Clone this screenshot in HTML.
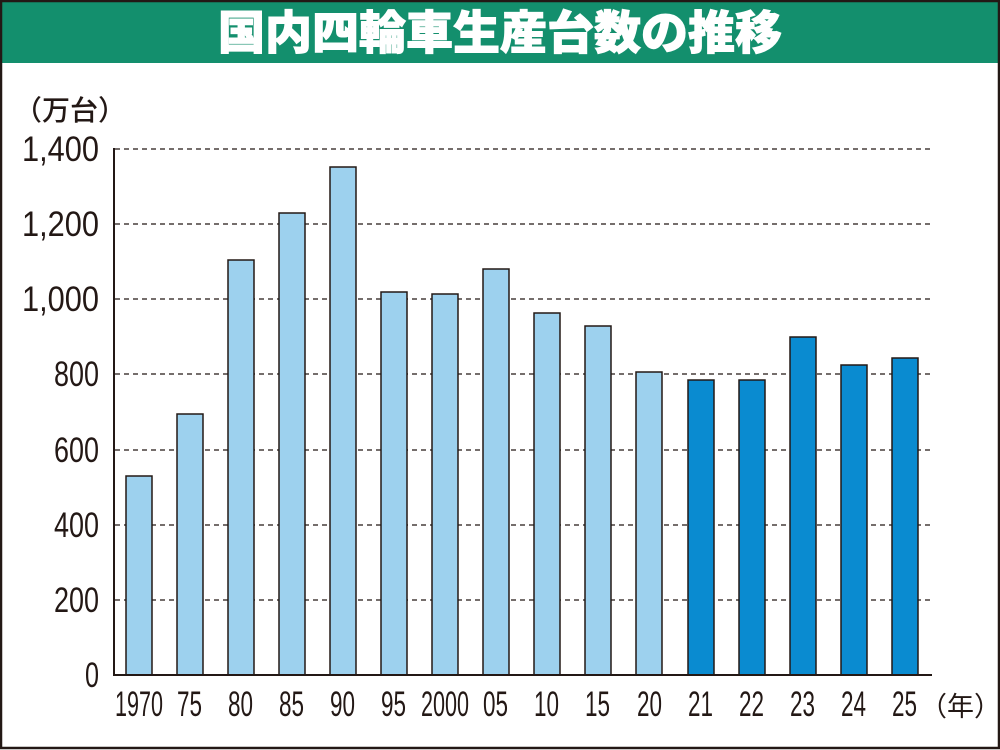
<!DOCTYPE html>
<html><head><meta charset="utf-8"><style>
html,body{margin:0;padding:0;background:#fff}
svg{display:block}
text{font-family:"Liberation Sans","Noto Sans CJK JP",sans-serif;fill:#231815}
</style></head><body>
<svg width="1000" height="750" viewBox="0 0 1000 750" xmlns="http://www.w3.org/2000/svg">
<rect x="0" y="0" width="1000" height="750" fill="#fff"/>
<rect x="0" y="0" width="1000" height="63" fill="#138f6d"/>
<rect x="1" y="1" width="998" height="747" fill="none" stroke="#231815" stroke-width="2.5"/>
<text x="218" y="49" textLength="564" lengthAdjust="spacingAndGlyphs" font-size="46" style="fill:#fff;font-family:'Noto Sans CJK JP',sans-serif;font-weight:900;stroke:#fff;stroke-width:1">国内四輪車生産台数の推移</text>
<text x="14" y="120" font-size="28" style="font-family:'Noto Sans CJK JP',sans-serif;font-weight:500">（万台）</text>
<g stroke="#231815" stroke-width="1.3" stroke-dasharray="5,4">
<line x1="115" y1="149" x2="932" y2="149"/>
<line x1="115" y1="224" x2="932" y2="224"/>
<line x1="115" y1="299" x2="932" y2="299"/>
<line x1="115" y1="374" x2="932" y2="374"/>
<line x1="115" y1="450" x2="932" y2="450"/>
<line x1="115" y1="525" x2="932" y2="525"/>
<line x1="115" y1="600" x2="932" y2="600"/>
</g>
<g font-size="35" lengthAdjust="spacingAndGlyphs">
<text x="22" y="161" textLength="77" lengthAdjust="spacingAndGlyphs">1,400</text>
<text x="22" y="236" textLength="77" lengthAdjust="spacingAndGlyphs">1,200</text>
<text x="22" y="311" textLength="77" lengthAdjust="spacingAndGlyphs">1,000</text>
<text x="54" y="386" textLength="45" lengthAdjust="spacingAndGlyphs">800</text>
<text x="54" y="462" textLength="45" lengthAdjust="spacingAndGlyphs">600</text>
<text x="54" y="537" textLength="45" lengthAdjust="spacingAndGlyphs">400</text>
<text x="54" y="612" textLength="45" lengthAdjust="spacingAndGlyphs">200</text>
<text x="85" y="687" textLength="14" lengthAdjust="spacingAndGlyphs">0</text>
</g>
<g stroke="#231815" stroke-width="1.5">
<rect x="126" y="476" width="26" height="199" fill="#9dd1ee"/>
<rect x="177" y="414" width="26" height="261" fill="#9dd1ee"/>
<rect x="228" y="260" width="26" height="415" fill="#9dd1ee"/>
<rect x="279" y="213" width="26" height="462" fill="#9dd1ee"/>
<rect x="330" y="167" width="26" height="508" fill="#9dd1ee"/>
<rect x="381" y="292" width="26" height="383" fill="#9dd1ee"/>
<rect x="432" y="294" width="26" height="381" fill="#9dd1ee"/>
<rect x="483" y="269" width="26" height="406" fill="#9dd1ee"/>
<rect x="534" y="313" width="26" height="362" fill="#9dd1ee"/>
<rect x="585" y="326" width="26" height="349" fill="#9dd1ee"/>
<rect x="636" y="372" width="26" height="303" fill="#9dd1ee"/>
<rect x="688" y="380" width="26" height="295" fill="#0a8bd0"/>
<rect x="739" y="380" width="26" height="295" fill="#0a8bd0"/>
<rect x="790" y="337" width="26" height="338" fill="#0a8bd0"/>
<rect x="841" y="365" width="26" height="310" fill="#0a8bd0"/>
<rect x="892" y="358" width="26" height="317" fill="#0a8bd0"/>
</g>
<line x1="114" y1="148" x2="114" y2="676" stroke="#231815" stroke-width="2"/>
<line x1="113" y1="675" x2="932" y2="675" stroke="#231815" stroke-width="2"/>
<g font-size="35">
<text x="115" y="716" textLength="48" lengthAdjust="spacingAndGlyphs">1970</text>
<text x="177" y="716" textLength="25" lengthAdjust="spacingAndGlyphs">75</text>
<text x="228" y="716" textLength="25" lengthAdjust="spacingAndGlyphs">80</text>
<text x="279" y="716" textLength="25" lengthAdjust="spacingAndGlyphs">85</text>
<text x="330" y="716" textLength="25" lengthAdjust="spacingAndGlyphs">90</text>
<text x="381" y="716" textLength="25" lengthAdjust="spacingAndGlyphs">95</text>
<text x="421" y="716" textLength="48" lengthAdjust="spacingAndGlyphs">2000</text>
<text x="483" y="716" textLength="25" lengthAdjust="spacingAndGlyphs">05</text>
<text x="534" y="716" textLength="25" lengthAdjust="spacingAndGlyphs">10</text>
<text x="585" y="716" textLength="25" lengthAdjust="spacingAndGlyphs">15</text>
<text x="637" y="716" textLength="25" lengthAdjust="spacingAndGlyphs">20</text>
<text x="688" y="716" textLength="25" lengthAdjust="spacingAndGlyphs">21</text>
<text x="739" y="716" textLength="25" lengthAdjust="spacingAndGlyphs">22</text>
<text x="790" y="716" textLength="25" lengthAdjust="spacingAndGlyphs">23</text>
<text x="841" y="716" textLength="25" lengthAdjust="spacingAndGlyphs">24</text>
<text x="892" y="716" textLength="25" lengthAdjust="spacingAndGlyphs">25</text>
</g>
<text x="920" y="716" font-size="27" style="font-family:'Noto Sans CJK JP',sans-serif">（年）</text>
</svg>
</body></html>
